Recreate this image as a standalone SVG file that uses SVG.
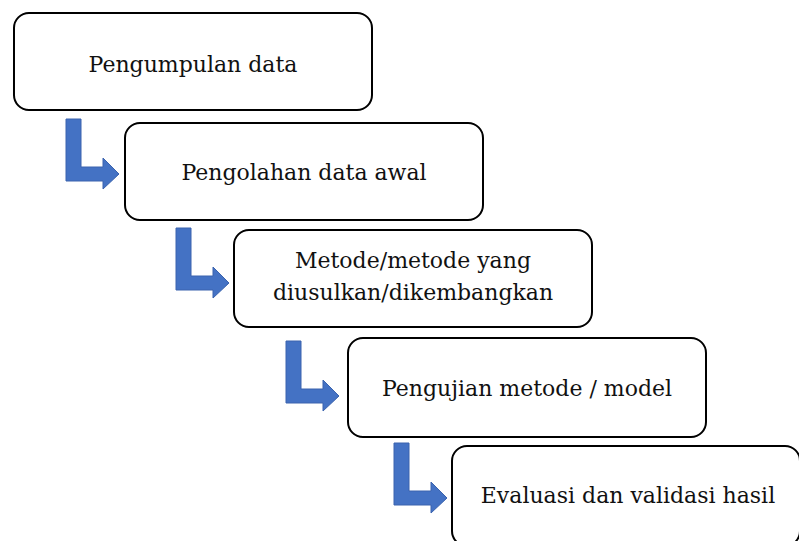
<svg xmlns="http://www.w3.org/2000/svg" width="799" height="541" viewBox="0 0 799 541">
<style>
.box{fill:#fff;stroke:#000;stroke-width:2}
.lbl{font-family:"DejaVu Serif","Liberation Serif",serif;font-size:22px;fill:#111;text-anchor:middle}
.arr{fill:#4472C4;stroke:#3A63AE;stroke-width:1}
</style>
<defs>
<path id="bent" d="M0,0 H15 V48 H37 V39 L53,55 L37,70 V62 H0 Z"/>
</defs>
<rect width="799" height="541" fill="#fff"/>
<g id="connectors">
<use href="#bent" class="arr" transform="translate(66,119)"/>
<use href="#bent" class="arr" transform="translate(176,228)"/>
<use href="#bent" class="arr" transform="translate(286,341)"/>
<use href="#bent" class="arr" transform="translate(394,443)"/>
</g>
<g id="n1">
<rect class="box" x="14" y="13" width="358" height="97" rx="15"/>
<text class="lbl" x="193" y="72">Pengumpulan data</text>
</g>
<g id="n2">
<rect class="box" x="125" y="123" width="358" height="97" rx="15"/>
<text class="lbl" x="304" y="180">Pengolahan data awal</text>
</g>
<g id="n3">
<rect class="box" x="234" y="230" width="358" height="97" rx="15"/>
<text class="lbl" x="413" y="268">Metode/metode yang</text>
<text class="lbl" x="413" y="300">diusulkan/dikembangkan</text>
</g>
<g id="n4">
<rect class="box" x="348" y="338" width="358" height="99" rx="15"/>
<text class="lbl" x="527" y="396">Pengujian metode / model</text>
</g>
<g id="n5">
<rect class="box" x="452" y="446" width="348" height="100" rx="15"/>
<text class="lbl" x="628" y="503">Evaluasi dan validasi hasil</text>
</g>
</svg>
